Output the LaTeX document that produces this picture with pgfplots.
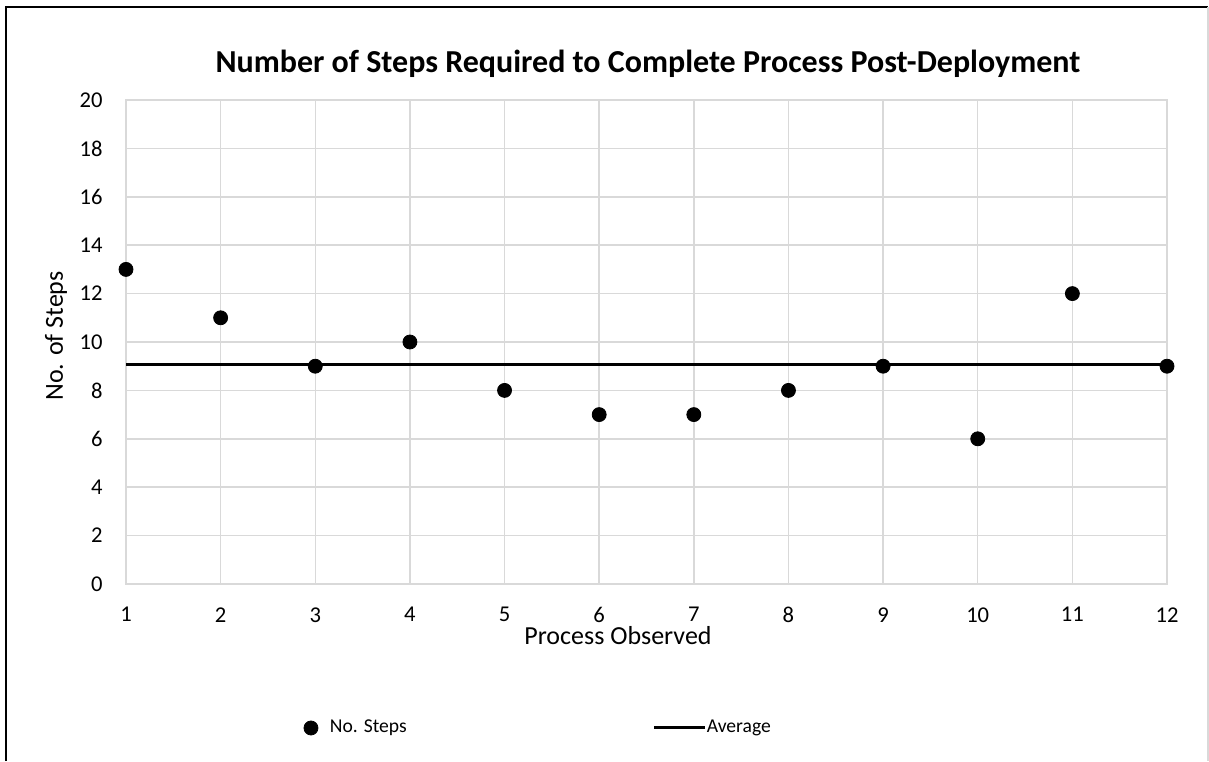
\documentclass[border=0pt]{standalone}
\usepackage{fontspec}
\setmainfont{Carlito}
\usepackage{pgfplots}
\pgfplotsset{compat=1.18}
\definecolor{gridgray}{HTML}{D9D9D9}

\begin{document}
\begin{tikzpicture}
  % page frame
  \path[use as bounding box] (0pt,0pt) rectangle (604.5pt,380.5pt);
  \draw[line width=1pt,black] (3pt,0pt) -- (3pt,377pt) -- (604pt,377pt);
  \draw[line width=0.6pt,gridgray] (604pt,377pt) -- (604pt,0pt);

  \begin{axis}[
    at={(63pt,88.5pt)}, anchor=south west,
    scale only axis, width=520.5pt, height=242pt,
    xmin=1, xmax=12, ymin=0, ymax=20,
    xtick={1,...,12}, ytick={0,2,...,20},
    grid=major,
    major grid style={draw=gridgray, line width=0.75pt},
    axis line style={draw=gridgray, line width=0.75pt},
    tick style={draw=none},
    clip=false,
    /pgf/number format/assume math mode=true,
    ticklabel style={font=\fontsize{11.3}{13}\selectfont, inner sep=0pt},
    xticklabel style={anchor=north, yshift=-11.5pt},
    yticklabel style={anchor=east, xshift=-11.5pt},
    title={Number of Steps Required to Complete Process Post-Deployment},
    every axis title/.style={at={(axis description cs:0.5014,1.0558)}, anchor=base,
      font=\fontsize{16}{19}\selectfont\bfseries, inner sep=0pt},
    xlabel={Process Observed},
    every axis x label/.style={at={(axis description cs:0.4726,-0.126)}, anchor=base,
      font=\fontsize{13}{15}\selectfont, inner sep=0pt},
    ylabel={No. of Steps},
    every axis y label/.style={at={(axis description cs:-0.0672,0.5124)}, rotate=90,
      anchor=center, font=\fontsize{13}{15}\selectfont, inner sep=0pt},
    legend columns=2,
    legend style={draw=none, fill=none, inner sep=0pt, outer sep=0pt,
      at={(axis description cs:0.1652,-0.2975)}, anchor=west,
      font=\fontsize{9.8}{11}\selectfont,
      nodes={inner sep=0pt},
      /tikz/every even column/.append style={column sep=123pt}},
  ]
    \addplot[only marks, mark=*, mark size=3.5pt, black,
      legend image code/.code={\fill[black] (6.5pt,0pt) circle (3.5pt); \path[draw=none] (0pt,0pt) -- (16pt,0pt);}]
      coordinates {
        (1,13) (2,11) (3,9) (4,10) (5,8) (6,7)
        (7,7) (8,8) (9,9) (10,6) (11,12) (12,9)
      };
    \addlegendentry{No. Steps}
    \addplot[black, line width=1.5pt, no marks,
      legend image code/.code={\draw[black, line width=1.5pt] (0pt,0pt) -- (25.5pt,0pt); \path[draw=none] (0pt,0pt) -- (26pt,0pt);}]
      coordinates {(1,9.0833) (12,9.0833)};
    \addlegendentry{Average}
  \end{axis}
\end{tikzpicture}
\end{document}
